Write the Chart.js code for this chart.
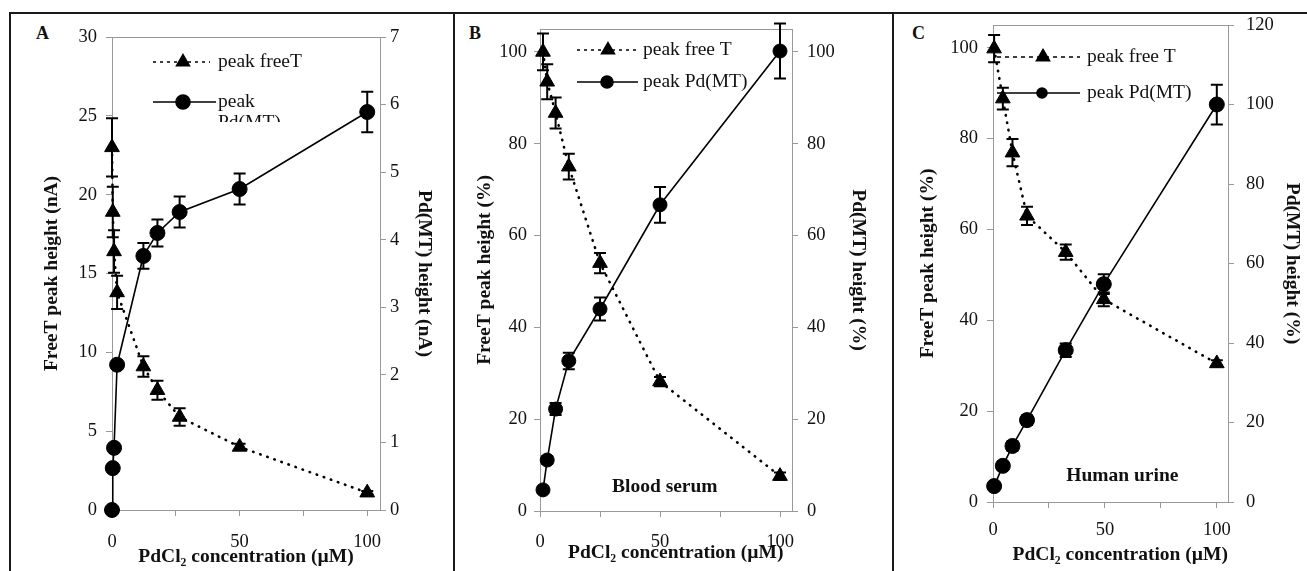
<!DOCTYPE html>
<html><head><meta charset="utf-8">
<script src="https://cdn.jsdelivr.net/npm/chart.js@4.4.0/dist/chart.umd.min.js"></script>
<style>
html,body{margin:0;padding:0;background:#fff;}
#wrap{position:relative;width:1307px;height:571px;overflow:hidden;background:#fff;}
canvas{position:absolute;left:0;top:0;}
.ln{position:absolute;background:#1a1a1a;}
.lbl{position:absolute;font:bold 18px "Liberation Serif",serif;line-height:18px;color:#111;}
</style></head><body>
<div id="wrap">
 <div class="ln" style="left:9px;top:12px;width:1298px;height:2px"></div>
 <div class="ln" style="left:9px;top:12px;width:2px;height:559px"></div>
 <div class="ln" style="left:453px;top:12px;width:2px;height:559px"></div>
 <div class="ln" style="left:892px;top:12px;width:2px;height:559px"></div>
 <div class="lbl" style="left:36px;top:24px">A</div>
 <div class="lbl" style="left:469px;top:24px">B</div>
 <div class="lbl" style="left:912px;top:24px">C</div>
 <canvas id="cA" width="1307" height="571"></canvas>
 <canvas id="cB" width="1307" height="571"></canvas>
 <canvas id="cC" width="1307" height="571"></canvas>
</div>
<script>
// ---------- data ----------
const xTickLabels = [0, 50, 100];

// Panel A (nA)
const concA = [0, 0.3, 0.8, 2, 12.3, 17.8, 26.5, 50, 100];
const freeT_A = [23.0, 18.9, 16.4, 13.8, 9.1, 7.6, 5.9, 4.0, 1.1];
const freeT_A_err = [1.85, 1.6, 1.35, 1.05, 0.65, 0.6, 0.55, 0.2, 0.1];
const pdmt_A = [0, 0.62, 0.92, 2.15, 3.76, 4.1, 4.41, 4.75, 5.89];
const pdmt_A_err = [0, 0.03, 0.03, 0.05, 0.19, 0.2, 0.23, 0.23, 0.3];

// Panel B (%), blood serum
const concB = [1.25, 3, 6.5, 12, 25, 50, 100];
const freeT_B = [100, 93.5, 86.7, 75, 54, 28.2, 7.6];
const freeT_B_err = [4, 3.8, 3.4, 2.8, 2.2, 1, 0.8];
const pdmt_B = [4.6, 11.1, 22.2, 32.7, 44, 66.7, 100.2];
const pdmt_B_err = [0.6, 0.8, 1.3, 1.8, 2.5, 3.9, 6];

// Panel C (%), human urine
const concC = [0.5, 4.4, 8.7, 15.2, 32.5, 49.5, 100];
const freeT_C = [99.8, 88.8, 76.9, 63, 55, 44.6, 30.5];
const freeT_C_err = [3, 2.4, 3, 2, 1.7, 1.5, 0.7];
const pdmt_C = [4.0, 9.1, 14.1, 20.6, 38.2, 54.8, 100];
const pdmt_C_err = [0.8, 1, 1.2, 1.2, 1.7, 2.5, 5];

// ---------- plugins ----------
const SERIF = '"Liberation Serif", "Times New Roman", serif';
Chart.defaults.font.family = SERIF;
Chart.defaults.color = '#111';
const TITLE_SIZE = 19.5;

const errorBars = {
  id: 'errorBars',
  afterDatasetsDraw(chart) {
    const ctx = chart.ctx;
    chart.data.datasets.forEach((ds, i) => {
      if (!ds.errors) return;
      const meta = chart.getDatasetMeta(i);
      const ys = chart.scales[ds.yAxisID];
      ctx.save(); ctx.strokeStyle = '#000'; ctx.lineWidth = 2;
      ds.data.forEach((p, j) => {
        const e = ds.errors[j]; if (!e) return;
        const x = meta.data[j].x;
        const y1 = ys.getPixelForValue(p.y + e), y2 = ys.getPixelForValue(p.y - e);
        ctx.beginPath();
        ctx.moveTo(x, y1); ctx.lineTo(x, y2);
        ctx.moveTo(x - 6, y1); ctx.lineTo(x + 6, y1);
        ctx.moveTo(x - 6, y2); ctx.lineTo(x + 6, y2);
        ctx.stroke();
      });
      ctx.restore();
    });
  }
};

const topBorder = {
  id: 'topBorder',
  beforeDatasetsDraw(chart) {
    const {ctx, chartArea: a} = chart;
    ctx.save(); ctx.strokeStyle = '#999'; ctx.lineWidth = 1;
    ctx.beginPath(); ctx.moveTo(a.left, a.top + 0.5); ctx.lineTo(a.right, a.top + 0.5); ctx.stroke();
    ctx.restore();
  }
};

const customLegend = {
  id: 'customLegend',
  afterDraw(chart, args, opts) {
    const ctx = chart.ctx;
    (opts.items || []).forEach(it => {
      const ds = chart.data.datasets[it.ds];
      ctx.save();
      if (it.clip) { ctx.beginPath(); ctx.rect(0, 0, 1307, it.clip); ctx.clip(); }
      ctx.strokeStyle = '#000'; ctx.lineWidth = it.lw; ctx.setLineDash(it.dash || []);
      ctx.beginPath(); ctx.moveTo(it.x1, it.y); ctx.lineTo(it.x2, it.y); ctx.stroke();
      ctx.setLineDash([]);
      ctx.fillStyle = '#000'; ctx.strokeStyle = '#000';
      Chart.helpers.drawPoint(ctx, {pointStyle: ds.pointStyle, rotation: 0, radius: it.r, borderWidth: 1}, it.mx, it.y);
      ctx.fillStyle = '#111';
      ctx.font = TITLE_SIZE + 'px ' + SERIF; ctx.textBaseline = 'middle'; ctx.textAlign = 'left';
      it.lines.forEach((t, k) => ctx.fillText(t, it.tx, it.y + k * 21));
      ctx.restore();
    });
  }
};

const note = {
  id: 'note',
  afterDraw(chart, args, opts) {
    if (!opts.text) return;
    const ctx = chart.ctx;
    ctx.save();
    ctx.font = 'bold ' + TITLE_SIZE + 'px ' + SERIF; ctx.fillStyle = '#111';
    ctx.textAlign = 'center'; ctx.textBaseline = 'middle';
    ctx.fillText(opts.text, chart.scales.x.getPixelForValue(opts.x), chart.scales.yL.getPixelForValue(opts.y));
    ctx.restore();
  }
};

// ---------- panel builder ----------
function panel(id, p) {
  const lh = TITLE_SIZE * 1.2;
  const LW = p.l - (p.ltx - lh / 2);
  const RW = p.rtx + lh / 2 - p.r;
  const XH = p.xty + lh / 2 - p.b;
  const axisCommon = {
    grid: {drawOnChartArea: false, drawTicks: true, tickLength: 6, color: '#999'},
    border: {color: '#999', width: 1}
  };
  const titleFont = {size: TITLE_SIZE, weight: 'bold', family: SERIF};
  return new Chart(document.getElementById(id), {
    type: 'scatter',
    data: {datasets: [
      {label: 'peak free T', data: p.x.map((x, i) => ({x, y: p.t[i]})), errors: p.te, yAxisID: 'yL', clip: false,
       showLine: true, borderColor: '#000', borderWidth: 2.6, borderDash: [0.5, 7], borderCapStyle: 'round',
       pointStyle: 'triangle', pointRadius: 8.5, backgroundColor: '#000', pointBorderColor: '#000', pointBorderWidth: 1},
      {label: 'peak Pd(MT)', data: p.x.map((x, i) => ({x, y: p.c[i]})), errors: p.ce, yAxisID: 'yR', clip: false,
       showLine: true, borderColor: '#000', borderWidth: 1.6,
       pointStyle: 'circle', pointRadius: p.cr, backgroundColor: '#000', pointBorderColor: '#000', pointBorderWidth: 1}
    ]},
    options: {
      responsive: false, animation: false, events: [],
      layout: {padding: {left: p.ltx - lh / 2, right: 1307 - (p.r + RW), top: p.t0, bottom: 571 - p.b - XH}},
      plugins: {
        legend: {display: false}, tooltip: {enabled: false},
        customLegend: {items: p.legend},
        note: p.note || {}
      },
      scales: {
        x: Object.assign({}, axisCommon, {
          type: 'linear', position: 'bottom', min: 0, max: 105,
          ticks: {stepSize: 25, includeBounds: false, autoSkip: false, maxRotation: 0,
                  callback: v => xTickLabels.includes(v) ? String(v) : '',
                  font: {size: 18.5}, padding: p.xpad, color: '#111'},
          title: {display: true, text: p.xlead + 'PdCl\u2082 concentration (\u00B5M)', font: titleFont, padding: 0, color: '#111'},
          afterFit(s) { s.height = XH; }
        }),
        yL: Object.assign({}, axisCommon, {
          type: 'linear', position: 'left', min: p.yl[0], max: p.yl[1],
          ticks: {stepSize: p.yl[2], includeBounds: false, font: {size: 18.5}, padding: p.lpad, color: '#111'},
          title: {display: true, text: p.ltitle, font: titleFont, padding: 0, color: '#111'},
          afterFit(s) { s.width = LW; }
        }),
        yR: Object.assign({}, axisCommon, {
          type: 'linear', position: 'right', min: p.yr[0], max: p.yr[1],
          ticks: {stepSize: p.yr[2], includeBounds: false, font: {size: 18.5}, padding: p.rpad, color: '#111'},
          title: {display: true, text: p.rtitle, font: titleFont, padding: 0, color: '#111'},
          afterFit(s) { s.width = RW; }
        })
      }
    },
    plugins: [topBorder, errorBars, customLegend, note]
  });
}

panel('cA', {
  x: concA, t: freeT_A, te: freeT_A_err, c: pdmt_A, ce: pdmt_A_err, cr: 7.5,
  l: 112, r: 380, t0: 37, b: 510, ltx: 52, rtx: 424, xty: 557, xlead: '',
  yl: [0, 30, 5], yr: [0, 7, 1], lpad: 9, rpad: 4, xpad: 15,
  ltitle: 'FreeT peak height (nA)', rtitle: 'Pd(MT) height (nA)',
  legend: [
    {ds: 0, x1: 153, x2: 210, y: 62, mx: 183, r: 7.5, lw: 1.5, dash: [3, 4], tx: 218, lines: ['peak freeT']},
    {ds: 1, x1: 153, x2: 216, y: 102, mx: 183, r: 7, lw: 1.6, tx: 218, lines: ['peak', 'Pd(MT)'], clip: 122}
  ]
});

panel('cB', {
  x: concB, t: freeT_B, te: freeT_B_err, c: pdmt_B, ce: pdmt_B_err, cr: 7,
  l: 540, r: 792, t0: 29, b: 511, ltx: 485, rtx: 858, xty: 553, xlead: '\u2002\u2002',
  yl: [0, 105, 20], yr: [0, 105, 20], lpad: 7, rpad: 9, xpad: 14,
  ltitle: 'FreeT peak height (%)', rtitle: 'Pd(MT) height (%)',
  legend: [
    {ds: 0, x1: 577, x2: 638, y: 50, mx: 608, r: 7.5, lw: 1.5, dash: [3, 4], tx: 643, lines: ['peak free T']},
    {ds: 1, x1: 577, x2: 638, y: 82, mx: 607, r: 6, lw: 1.6, tx: 643, lines: ['peak Pd(MT)']}
  ],
  note: {text: 'Blood serum', x: 52, y: 5.2}
});

panel('cC', {
  x: concC, t: freeT_C, te: freeT_C_err, c: pdmt_C, ce: pdmt_C_err, cr: 7.5,
  l: 993, r: 1228, t0: 25, b: 502, ltx: 928, rtx: 1292, xty: 555, xlead: '\u2002\u2002',
  yl: [0, 105, 20], yr: [0, 120, 20], lpad: 9, rpad: 12, xpad: 11,
  ltitle: 'FreeT peak height (%)', rtitle: 'Pd(MT) height (%)',
  legend: [
    {ds: 0, x1: 997, x2: 1080, y: 57, mx: 1043, r: 7.5, lw: 1.6, dash: [4, 4], tx: 1087, lines: ['peak free T']},
    {ds: 1, x1: 997, x2: 1080, y: 93, mx: 1042, r: 5, lw: 1.6, tx: 1087, lines: ['peak Pd(MT)']}
  ],
  note: {text: 'Human urine', x: 57.8, y: 5.7}
});
</script>
</body></html>
